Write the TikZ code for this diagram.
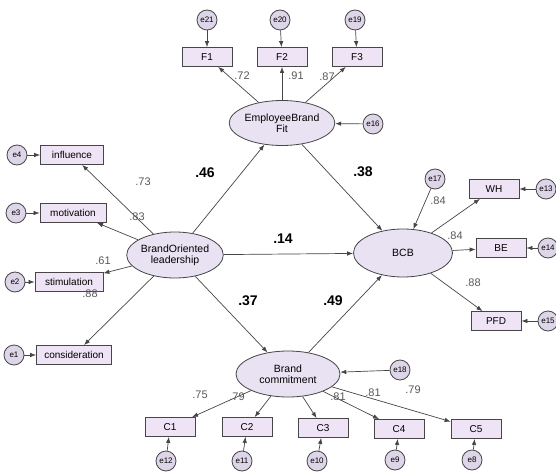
\documentclass[tikz,border=0pt]{standalone}
\usepackage{fontspec}
\setmainfont{Liberation Sans}
\usetikzlibrary{shapes.geometric,arrows.meta}
\definecolor{latfill}{RGB}{232,226,243}
\definecolor{obsfill}{RGB}{238,228,245}
\definecolor{errfill}{RGB}{222,214,232}
\definecolor{edgecol}{RGB}{70,70,70}
\begin{document}
\begin{tikzpicture}[x=1pt,y=-1pt,
	latent/.style={ellipse,draw=edgecol,line width=0.8pt,fill=latfill,inner sep=0pt,align=center,
		font=\fontsize{10.5}{11}\selectfont},
	obsbox/.style={rectangle,draw=edgecol,line width=0.8pt,fill=obsfill,minimum width=50pt,minimum height=19pt,
		inner sep=1pt,font=\fontsize{10}{11}\selectfont},
	errc/.style={circle,draw=edgecol,line width=0.8pt,fill=errfill,minimum size=20pt,inner sep=0pt,
		font=\fontsize{8}{8}\selectfont},
	arr/.style={draw=edgecol,line width=0.7pt,-{Latex[length=6pt,width=4.5pt]}},
	wt/.style={text=black!65,font=\fontsize{11}{12}\selectfont},
	coef/.style={font=\bfseries\fontsize{14}{15}\selectfont}]
	\fill[white] (0,0) rectangle (556,473);
	\clip (0,0) rectangle (556,473);
	% latent variables
	\node[latent,minimum width=100pt,minimum height=45pt] (ebf) at (282,123) {EmployeeBrand\\Fit};
	\node[latent,minimum width=94pt,minimum height=46pt] (bol) at (175,255) {BrandOriented\\leadership};
	\node[latent,minimum width=99pt,minimum height=48pt] (bcb) at (403,253) {BCB};
	\node[latent,minimum width=104pt,minimum height=46pt] (bc) at (288,374) {Brand\\commitment};
	% indicators
	\node[obsbox] (f1) at (207,57) {F1};
	\node[obsbox] (f2) at (282,57) {F2};
	\node[obsbox] (f3) at (357,57) {F3};
	\node[obsbox,minimum width=63pt] (inf) at (72,155) {influence};
	\node[obsbox,minimum width=66pt] (mot) at (73,213) {motivation};
	\node[obsbox,minimum width=68pt] (sti) at (69,282) {stimulation};
	\node[obsbox,minimum width=75pt] (con) at (74,355) {consideration};
	\node[obsbox] (wh) at (494,189) {WH};
	\node[obsbox] (be) at (501,248) {BE};
	\node[obsbox] (pfd) at (496,321) {PFD};
	\node[obsbox] (c1) at (170,427) {C1};
	\node[obsbox] (c2) at (247,427) {C2};
	\node[obsbox] (c3) at (323,428) {C3};
	\node[obsbox] (c4) at (399,429) {C4};
	\node[obsbox] (c5) at (476,429) {C5};
	% error terms
	\node[errc] (e21) at (207,20) {e21};
	\node[errc] (e20) at (280,20) {e20};
	\node[errc] (e19) at (355,20) {e19};
	\node[errc] (e16) at (373,124) {e16};
	\node[errc] (e4) at (17,155) {e4};
	\node[errc] (e3) at (16,213) {e3};
	\node[errc] (e2) at (15,282) {e2};
	\node[errc] (e1) at (14,355) {e1};
	\node[errc] (e17) at (435,179) {e17};
	\node[errc] (e13) at (546,189) {e13};
	\node[errc] (e14) at (548,248) {e14};
	\node[errc] (e15) at (548,321) {e15};
	\node[errc] (e18) at (400,370) {e18};
	\node[errc] (e12) at (166,461) {e12};
	\node[errc] (e11) at (242,461) {e11};
	\node[errc] (e10) at (317,461) {e10};
	\node[errc] (e9) at (395,460) {e9};
	\node[errc] (e8) at (472,460) {e8};
	% structural paths
	\draw[arr] (bol) -- (ebf);
	\draw[arr] (bol) -- (bcb);
	\draw[arr] (bol) -- (bc);
	\draw[arr] (ebf) -- (bcb);
	\draw[arr] (bc) -- (bcb);
	% loadings
	\foreach \t in {f1,f2,f3} \draw[arr] (ebf) -- (\t);
	\foreach \t in {inf,mot,sti,con} \draw[arr] (bol) -- (\t);
	\foreach \t in {wh,be,pfd} \draw[arr] (bcb) -- (\t);
	\foreach \t in {c1,c2,c3,c4,c5} \draw[arr] (bc) -- (\t);
	% residuals
	\draw[arr] (e21) -- (f1);
	\draw[arr] (e20) -- (f2);
	\draw[arr] (e19) -- (f3);
	\draw[arr] (e16) -- (ebf);
	\draw[arr] (e4) -- (inf);
	\draw[arr] (e3) -- (mot);
	\draw[arr] (e2) -- (sti);
	\draw[arr] (e1) -- (con);
	\draw[arr] (e17) -- (bcb);
	\draw[arr] (e13) -- (wh);
	\draw[arr] (e14) -- (be);
	\draw[arr] (e15) -- (pfd);
	\draw[arr] (e18) -- (bc);
	\draw[arr] (e12) -- (c1);
	\draw[arr] (e11) -- (c2);
	\draw[arr] (e10) -- (c3);
	\draw[arr] (e9) -- (c4);
	\draw[arr] (e8) -- (c5);
	% estimates
	\node[coef] (k46) at (205,173) {.46};
	\node[coef] (k38) at (363,172) {.38};
	\node[coef] (k14) at (283,239) {.14};
	\node[coef] (k37) at (248,301) {.37};
	\node[coef] (k49) at (333,301) {.49};
	\node[wt] (l72) at (242,76) {.72};
	\node[wt] (l91) at (296,76) {.91};
	\node[wt] (l87) at (327,77) {.87};
	\node[wt] (l73) at (143,182) {.73};
	\node[wt] (l83) at (137,217) {.83};
	\node[wt] (l61) at (103,261) {.61};
	\node[wt] (l88a) at (90,294) {.88};
	\node[wt] (l84a) at (438,201) {.84};
	\node[wt] (l84b) at (455,236) {.84};
	\node[wt] (l88b) at (473,283) {.88};
	\node[wt] (l75) at (200,395) {.75};
	\node[wt] (l79a) at (237,397) {.79};
	\node[wt] (l81a) at (338,397) {.81};
	\node[wt] (l81b) at (373,393) {.81};
	\node[wt] (l79b) at (413,390) {.79};
\end{tikzpicture}
\end{document}
